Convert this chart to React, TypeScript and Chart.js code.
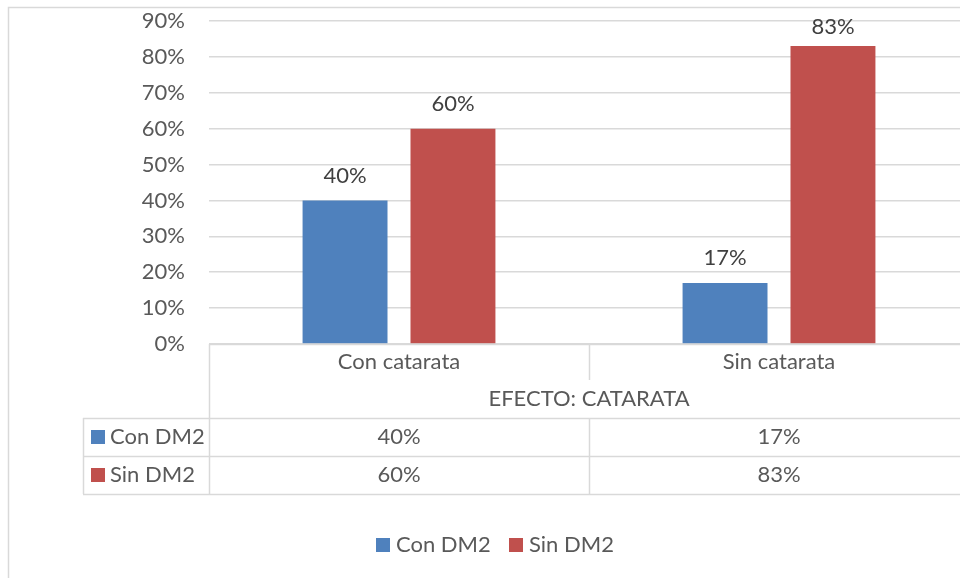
import React, { useEffect, useRef } from "react";
import { Chart, registerables } from "chart.js";

Chart.register(...registerables);

const categories = ["Con catarata", "Sin catarata"];
const seriesNames = ["Con DM2", "Sin DM2"];
const conDM2 = [40, 17];
const sinDM2 = [60, 83];
const yTicks = [0, 10, 20, 30, 40, 50, 60, 70, 80, 90];
const axisTitle = "EFECTO: CATARATA";

const BLUE = "#4F81BD";
const RED = "#C0504D";
const GRID = "#D9D9D9";
const TEXT = "#595959";
const FONT = "Lato, 'Open Sans', sans-serif";
const FS = 22;

const tablePlugin = {
  id: "tablePlugin",
  afterDraw(chart: any) {
    const ctx = chart.ctx as CanvasRenderingContext2D;
    const x = chart.scales.x;
    const area = chart.chartArea;
    const n = categories.length;
    const catW = (area.right - area.left) / n;
    const bottom = area.bottom;
    const rowLabelY = bottom + 18;
    const titleY = bottom + 55;
    const line1 = bottom + 74;
    const line2 = bottom + 112;
    const line3 = bottom + 150;
    const tableLeft = 83;
    const series = [conDM2, sinDM2];
    const colors = [BLUE, RED];

    ctx.save();
    ctx.strokeStyle = GRID;
    ctx.lineWidth = 1.5;
    ctx.strokeRect(8.5, 7.5, 2000, 2000);

    const hline = (y: number, x0: number, x1: number) => {
      ctx.beginPath();
      ctx.moveTo(x0, Math.round(y) + 0.5);
      ctx.lineTo(x1, Math.round(y) + 0.5);
      ctx.stroke();
    };
    const vline = (xx: number, y0: number, y1: number) => {
      ctx.beginPath();
      ctx.moveTo(Math.round(xx) + 0.5, y0);
      ctx.lineTo(Math.round(xx) + 0.5, y1);
      ctx.stroke();
    };
    ctx.lineWidth = 1.5;
    hline(bottom, area.left, area.right);
    hline(line1, tableLeft, area.right);
    hline(line2, tableLeft, area.right);
    hline(line3, tableLeft, area.right);
    vline(area.left, bottom, line3);
    vline(tableLeft, line1, line3);
    for (let i = 1; i <= n; i++) {
      const bx = area.left + i * catW;
      vline(bx, bottom, bottom + 36);
      vline(bx, line1, line3);
    }

    ctx.fillStyle = TEXT;
    ctx.font = `${FS}px ${FONT}`;
    ctx.textAlign = "center";
    ctx.textBaseline = "middle";
    categories.forEach((c, i) => {
      const cx = x.getPixelForValue(i);
      ctx.fillText(c, cx, rowLabelY);
      ctx.fillText(`${series[0][i]}%`, cx, (line1 + line2) / 2);
      ctx.fillText(`${series[1][i]}%`, cx, (line2 + line3) / 2);
    });
    ctx.fillText(axisTitle, (area.left + area.right) / 2, titleY);

    ctx.textAlign = "left";
    seriesNames.forEach((s, i) => {
      const cy = i === 0 ? (line1 + line2) / 2 : (line2 + line3) / 2;
      ctx.fillStyle = colors[i];
      ctx.fillRect(91, cy - 7, 14, 14);
      ctx.fillStyle = TEXT;
      ctx.fillText(s, 110, cy);
    });

    const ly = 545;
    const items = [
      { s: seriesNames[0], c: colors[0], x: 376 },
      { s: seriesNames[1], c: colors[1], x: 509 },
    ];
    items.forEach((it) => {
      ctx.fillStyle = it.c;
      ctx.fillRect(it.x, ly - 7, 14, 14);
      ctx.fillStyle = TEXT;
      ctx.fillText(it.s, it.x + 20, ly);
    });

    ctx.fillStyle = "#404040";
    ctx.textAlign = "center";
    chart.data.datasets.forEach((ds: any, di: number) => {
      const meta = chart.getDatasetMeta(di);
      meta.data.forEach((bar: any, i: number) => {
        const y = Math.max(bar.y - 25, 27);
        ctx.fillText(`${ds.data[i]}%`, bar.x, y);
      });
    });
    ctx.restore();
  },
};

export default function App() {
  const ref = useRef<HTMLCanvasElement>(null);
  useEffect(() => {
    document.body.style.margin = "0";
    document.body.style.overflow = "hidden";
    const chart = new Chart(ref.current!, {
      type: "bar",
      data: {
        labels: categories,
        datasets: [
          { label: seriesNames[0], data: conDM2, backgroundColor: BLUE, categoryPercentage: 0.568, barPercentage: 0.787 },
          { label: seriesNames[1], data: sinDM2, backgroundColor: RED, categoryPercentage: 0.568, barPercentage: 0.787 },
        ],
      },
      options: {
        animation: false,
        responsive: false,
        layout: { padding: { left: 0, top: 21, right: 11, bottom: 234 } },
        plugins: { legend: { display: false }, tooltip: { enabled: false } },
        scales: {
          x: { display: false },
          y: {
            min: 0,
            max: 90,
            afterFit: (s: any) => { s.width = 209; s.paddingTop = 0; s.paddingBottom = 0; },
            afterBuildTicks: (s: any) => { s.ticks = yTicks.map((v) => ({ value: v })); },
            border: { display: false },
            grid: { color: GRID, lineWidth: 1.5, drawTicks: false },
            ticks: {
              padding: 24,
              color: TEXT,
              font: { family: FONT, size: FS },
              callback: (v: any) => `${v}%`,
            },
          },
        },
      },
      plugins: [tablePlugin],
    });
    return () => chart.destroy();
  }, []);
  return (
    <div style={{ width: 980, height: 578 }}>
      <canvas ref={ref} width={980} height={578} style={{ display: "block" }} />
    </div>
  );
}
